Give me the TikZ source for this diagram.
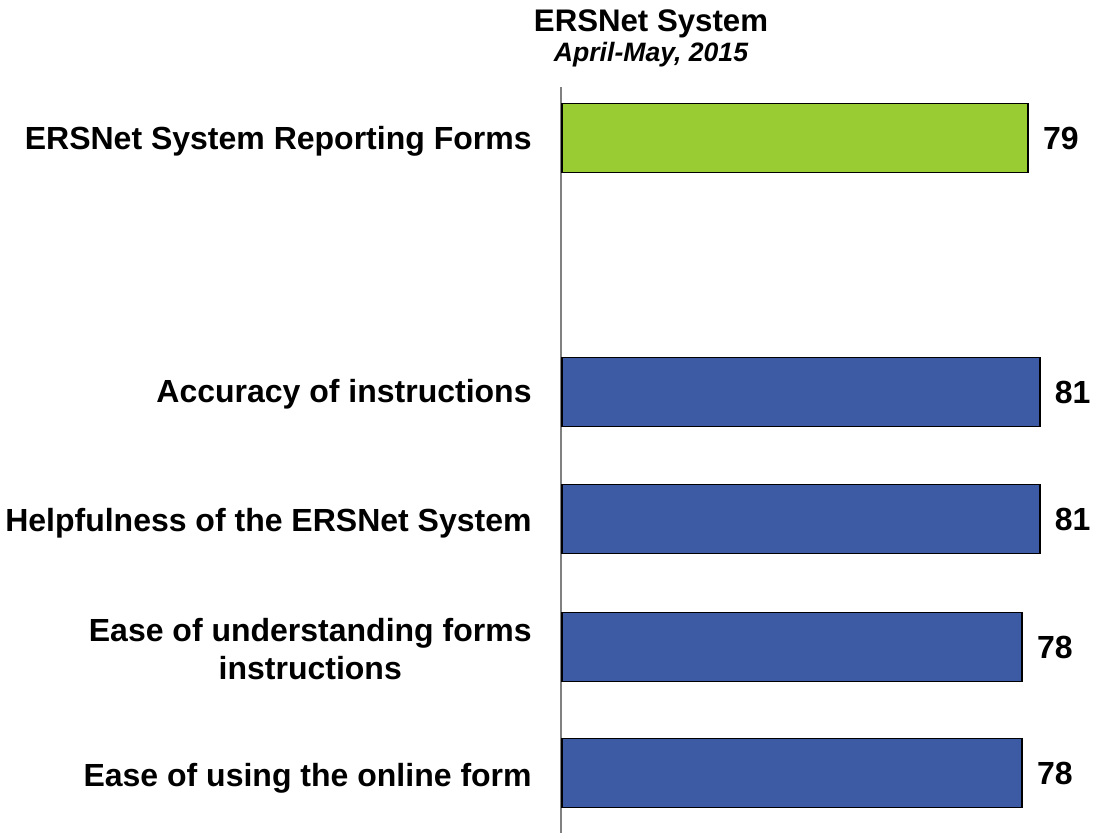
\documentclass[tikz,border=0pt]{standalone}
\usepackage{fontspec}
\setmainfont{Liberation Sans}
\usetikzlibrary{positioning}
\definecolor{barblue}{RGB}{61,91,164}
\definecolor{bargreen}{RGB}{153,204,51}
\definecolor{axisgray}{RGB}{128,128,128}
\tikzstyle{bar} = [rectangle, draw=black, line width=0.8pt, minimum height=34.5pt, inner sep=0pt, anchor=west, fill=barblue]
\tikzstyle{topbar} = [bar, fill=bargreen]
\tikzstyle{item} = [anchor=east, font=\fontsize{16}{19}\selectfont\bfseries, align=center, inner sep=0pt]
\tikzstyle{score} = [font=\fontsize{16}{19}\selectfont\bfseries, inner sep=0pt]
\tikzstyle{axis} = [axisgray, line width=1pt]

\begin{document}
\begin{tikzpicture}[x=0.5pt, y=-0.5pt]
\useasboundingbox (0,0) rectangle (1094,833);
\node(title)[anchor=base, font=\fontsize{15.6}{18}\selectfont\bfseries] at (651,32){ERSNet System};
\node(sub)[anchor=base, font=\fontsize{13.3}{15}\selectfont\bfseries\itshape] at (651,62){April-May, 2015};
\draw[axis] (561,87) -- (561,833);
\node(b1)[topbar, minimum width=79*2.95pt] at (561,138){};
\node(b2)[bar, minimum width=81*2.95pt] at (561,392){};
\node(b3)[bar, minimum width=81*2.95pt] at (561,519){};
\node(b4)[bar, minimum width=78*2.95pt] at (561,647){};
\node(b5)[bar, minimum width=78*2.95pt] at (561,773){};
\node(v1)[score, right=7pt of b1]{79};
\node(v2)[score, right=7pt of b2]{81};
\node(v3)[score, right=7pt of b3]{81};
\node(v4)[score, right=7pt of b4]{78};
\node(v5)[score, right=7pt of b5]{78};
\node(l1)[item] at (532,141){ERSNet System Reporting Forms};
\node(l2)[item] at (532,394){Accuracy of instructions};
\node(l3)[item] at (532,523){Helpfulness of the ERSNet System};
\node(l4)[item] at (532,649){Ease of understanding forms\\instructions};
\node(l5)[item] at (532,778){Ease of using the online form};
\end{tikzpicture}
\end{document}
